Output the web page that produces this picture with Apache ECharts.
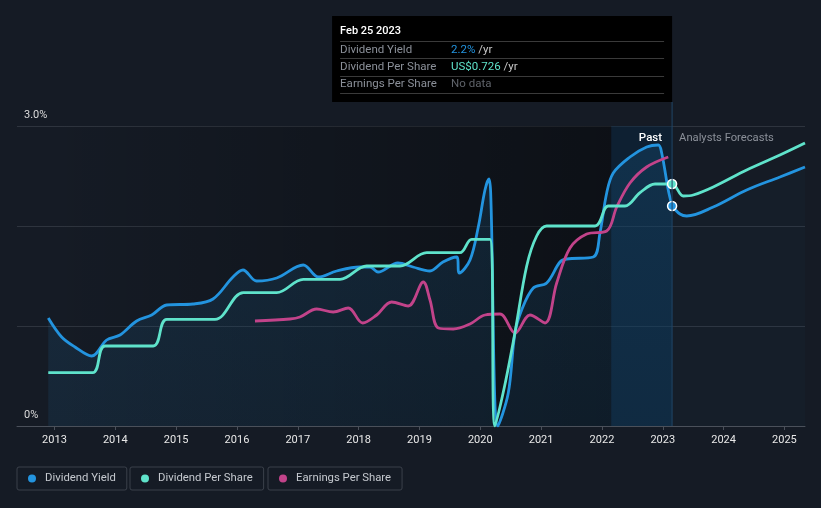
<!DOCTYPE html>
<html><head><meta charset="utf-8">
<script src="https://cdn.jsdelivr.net/npm/echarts@6/dist/echarts.min.js"></script>
<style>html,body{margin:0;padding:0;background:#151b25;}#c{width:821px;height:508px;}</style>
</head><body><div id="c"></div>
<script>
// ---- data (x = decimal year) ----
const yearTicks = [2013,2014,2015,2016,2017,2018,2019,2020,2021,2022,2023,2024,2025];
const forecastStart = 2023.153; // Feb 25 2023
const pastStart = 2022.153;

const yieldDates = [2012.898,2013.118,2013.337,2013.612,2013.858,2014.077,2014.351,2014.598,2014.845,2015.277,2015.606,2015.934,2016.099,2016.324,2016.653,2017.090,2017.337,2017.639,2018.022,2018.187,2018.318,2018.647,2018.893,2019.173,2019.386,2019.612,2019.655,2019.831,2019.967,2020.077,2020.143,2020.171,2020.290,2020.460,2020.570,2020.680,2020.871,2021.091,2021.310,2021.420,2021.857,2021.967,2022.078,2022.186,2022.461,2022.735,2022.926,2022.982,2023.090,2023.153,2023.283,2023.393,2023.830,2024.379,2024.926,2025.338];
const yieldValues = [1.08,0.89,0.79,0.70,0.86,0.91,1.05,1.11,1.21,1.22,1.27,1.49,1.56,1.45,1.48,1.61,1.49,1.55,1.59,1.59,1.54,1.63,1.59,1.55,1.64,1.69,1.53,1.66,1.99,2.36,2.47,2.33,0.0,0.33,0.93,1.16,1.38,1.43,1.64,1.67,1.69,1.93,2.33,2.53,2.69,2.79,2.81,2.73,2.36,2.2,2.12,2.10,2.19,2.36,2.49,2.59];

const dpsDates = [2012.898,2013.628,2013.830,2014.624,2014.845,2015.639,2016.104,2016.653,2017.090,2017.694,2018.132,2018.680,2019.119,2019.666,2019.858,2020.159,2020.241,2020.400,2020.570,2020.763,2020.927,2021.091,2021.886,2022.104,2022.379,2022.626,2022.872,2023.153,2023.337,2023.501,2023.830,2024.379,2024.926,2025.338];
const dpsValues = [0.16,0.16,0.24,0.24,0.32,0.32,0.40,0.40,0.44,0.44,0.48,0.48,0.52,0.52,0.56,0.56,0,0.12,0.28,0.48,0.57,0.60,0.60,0.66,0.66,0.70,0.726,0.726,0.69,0.693,0.717,0.768,0.813,0.849];

const epsDates = [2016.296,2016.871,2017.036,2017.310,2017.583,2017.830,2018.067,2018.297,2018.543,2018.816,2019.063,2019.173,2019.310,2019.556,2019.831,2020.077,2020.324,2020.571,2020.817,2021.064,2021.256,2021.475,2021.749,2022.078,2022.243,2022.461,2022.735,2023.090];
const epsValues = [1.05,1.07,1.09,1.17,1.14,1.18,1.03,1.11,1.24,1.20,1.44,1.26,0.98,0.97,1.02,1.11,1.12,0.93,1.11,1.03,1.43,1.78,1.92,1.95,2.19,2.43,2.59,2.69];

const tipDate = 'Feb 25 2023';
const tipYield = 2.2;
const tipDps = 0.726;

// ---- colours ----
const C_YIELD = '#2394df', C_DPS = '#5fe3cb', C_EPS = '#c2438a';

function pairs(xs, vs){ return xs.map((x,i)=>[x, vs[i]]); }
const yieldAll = pairs(yieldDates, yieldValues);
const yieldPast = yieldAll.filter(p=>p[0] <= forecastStart);
const yieldFut = yieldAll.filter(p=>p[0] >= forecastStart);

const chart = echarts.init(document.getElementById('c'));
const legendCommon = {
  top: 467, orient:'horizontal', icon:'circle', itemWidth:8, itemHeight:8,
  padding:[6,11,6,11], borderColor:'#3b414b', borderWidth:1, borderRadius:2,
  textStyle:{color:'#c5c9cf', fontSize:11.3, fontFamily:'Roboto', padding:[0,0,0,4]},
  selectedMode: true
};
const lineCommon = { type:'line', smooth:0.35, showSymbol:false, symbol:'none', silent:true };

chart.setOption({
  backgroundColor:'#151b25',
  animation:false,
  textStyle:{fontFamily:'Roboto, sans-serif'},
  grid:{left:17, right:16, top:126, bottom:82},
  legend:[
    Object.assign({data:['Dividend Yield'], left:17}, legendCommon),
    Object.assign({data:['Dividend Per Share'], left:130}, legendCommon),
    Object.assign({data:['Earnings Per Share'], left:268}, legendCommon)
  ],
  xAxis:{
    type:'value', min:2012.384, max:2025.338,
    splitLine:{show:false},
    axisLine:{lineStyle:{color:'#4a505a'}},
    axisTick:{show:true, length:4, customValues:yearTicks, lineStyle:{color:'#4a505a'}},
    axisLabel:{customValues:yearTicks, formatter:v=>String(Math.round(v)), color:'#e8e8e8', fontSize:11, margin:9}
  },
  yAxis:[
    {type:'value', min:0, max:3, interval:1,
     axisLine:{show:false}, axisTick:{show:false},
     splitLine:{lineStyle:{color:'#2e343e', width:1}},
     axisLabel:{inside:true, margin:7, color:'#dcdcdc', fontSize:11, verticalAlign:'bottom', padding:[0,0,5,0],
       formatter:v=> v===3 ? '3.0%' : (v===0 ? '0%' : '')}},
    {type:'value', min:0, max:0.9, show:false},
    {type:'value', min:0, max:3, show:false}
  ],
  series:[
    Object.assign({}, lineCommon, {
      name:'Dividend Yield', yAxisIndex:0, data:yieldPast, z:3,
      itemStyle:{color:C_YIELD}, lineStyle:{color:C_YIELD, width:2.8},
      areaStyle:{color:new echarts.graphic.LinearGradient(0,0,0,1,[
        {offset:0, color:'rgba(35,148,223,0.2)'},{offset:1, color:'rgba(35,148,223,0.13)'}])},
      markArea:{silent:true, data:[
        [{xAxis:2012.898, itemStyle:{color:new echarts.graphic.LinearGradient(0,0,1,0,[
            {offset:0,color:'rgba(0,0,0,0)'},{offset:1,color:'rgba(0,0,0,0.4)'}])}},{xAxis:pastStart}],
        [{xAxis:pastStart, itemStyle:{color:'rgba(5,40,70,0.4)'}},{xAxis:forecastStart}]
      ]}
    }),
    Object.assign({}, lineCommon, {
      name:'Dividend Yield', yAxisIndex:0, data:yieldFut, z:3,
      itemStyle:{color:C_YIELD}, lineStyle:{color:C_YIELD, width:2.8},
      areaStyle:{color:'rgba(35,148,223,0.04)'},
      markPoint:{silent:true, symbol:'circle', symbolSize:9, label:{show:false},
        itemStyle:{color:C_YIELD, borderColor:'#ffffff', borderWidth:1.5},
        data:[{coord:[forecastStart, tipYield]}]}
    }),
    Object.assign({}, lineCommon, {
      name:'Dividend Per Share', yAxisIndex:1, data:pairs(dpsDates, dpsValues), z:4,
      itemStyle:{color:C_DPS}, lineStyle:{color:C_DPS, width:2.8},
      markPoint:{silent:true, symbol:'circle', symbolSize:9, label:{show:false},
        itemStyle:{color:C_DPS, borderColor:'#ffffff', borderWidth:1.5},
        data:[{coord:[forecastStart, tipDps]}]}
    }),
    Object.assign({}, lineCommon, {
      name:'Earnings Per Share', yAxisIndex:2, data:pairs(epsDates, epsValues), z:3,
      itemStyle:{color:C_EPS}, lineStyle:{color:C_EPS, width:2.8}
    })
  ]
});

// decorations positioned through the axis scale
const fx = chart.convertToPixel({xAxisIndex:0}, forecastStart);
const topY = chart.convertToPixel({yAxisIndex:0}, 3);
const botY = chart.convertToPixel({yAxisIndex:0}, 0);
const tipRight = fx, tipLeft = fx - 340, tipTop = 16, tipBottom = 102;
const rowLabel = {fill:'#8b9099', font:'11.5px Roboto'};
chart.setOption({
  graphic:[
    {type:'line', silent:true, z:50, shape:{x1:fx, y1:tipBottom, x2:fx, y2:botY}, style:{stroke:'#1f4566', lineWidth:1}},
    {type:'text', silent:true, z:50, x:fx-10, y:topY+12, style:{text:'Past', fill:'#ffffff', font:'500 11.5px Roboto', align:'right', verticalAlign:'middle'}},
    {type:'text', silent:true, z:50, x:fx+7, y:topY+12, style:{text:'Analysts Forecasts', fill:'#8b9099', font:'11.2px Roboto', align:'left', verticalAlign:'middle'}},
    {type:'group', silent:true, z:60, children:[
      {type:'rect', shape:{x:tipLeft, y:tipTop, width:tipRight-tipLeft, height:tipBottom-tipTop}, style:{fill:'#000000'}},
      {type:'text', x:tipLeft+8, y:31, style:{text:tipDate, fill:'#ffffff', font:'500 11px Roboto', verticalAlign:'middle'}},
      {type:'line', shape:{x1:tipLeft+8, y1:41.5, x2:tipRight-8, y2:41.5}, style:{stroke:'#3a3a3a', lineWidth:1}},
      {type:'line', shape:{x1:tipLeft+8, y1:58.5, x2:tipRight-8, y2:58.5}, style:{stroke:'#3a3a3a', lineWidth:1}},
      {type:'line', shape:{x1:tipLeft+8, y1:76.5, x2:tipRight-8, y2:76.5}, style:{stroke:'#3a3a3a', lineWidth:1}},
      {type:'line', shape:{x1:tipLeft+8, y1:93.5, x2:tipRight-8, y2:93.5}, style:{stroke:'#3a3a3a', lineWidth:1}},
      {type:'text', x:tipLeft+8, y:50, style:Object.assign({text:'Dividend Yield', verticalAlign:'middle'}, rowLabel)},
      {type:'text', x:tipLeft+8, y:67, style:Object.assign({text:'Dividend Per Share', verticalAlign:'middle'}, rowLabel)},
      {type:'text', x:tipLeft+8, y:84.5, style:Object.assign({text:'Earnings Per Share', verticalAlign:'middle'}, rowLabel)},
      {type:'text', x:tipLeft+119, y:50, style:{text:'{v|'+tipYield.toFixed(1)+'%} {u|/yr}', verticalAlign:'middle', font:'11.5px Roboto',
        rich:{v:{fill:C_YIELD, font:'11.5px Roboto'}, u:{fill:'#c8c8c8', font:'11.5px Roboto'}}}},
      {type:'text', x:tipLeft+119, y:67, style:{text:'{v|US$'+tipDps.toFixed(3)+'} {u|/yr}', verticalAlign:'middle', font:'11.5px Roboto',
        rich:{v:{fill:C_DPS, font:'11.5px Roboto'}, u:{fill:'#c8c8c8', font:'11.5px Roboto'}}}},
      {type:'text', x:tipLeft+119, y:84.5, style:{text:'No data', fill:'#5f636a', font:'11.5px Roboto', verticalAlign:'middle'}}
    ]}
  ]
});
</script></body></html>
